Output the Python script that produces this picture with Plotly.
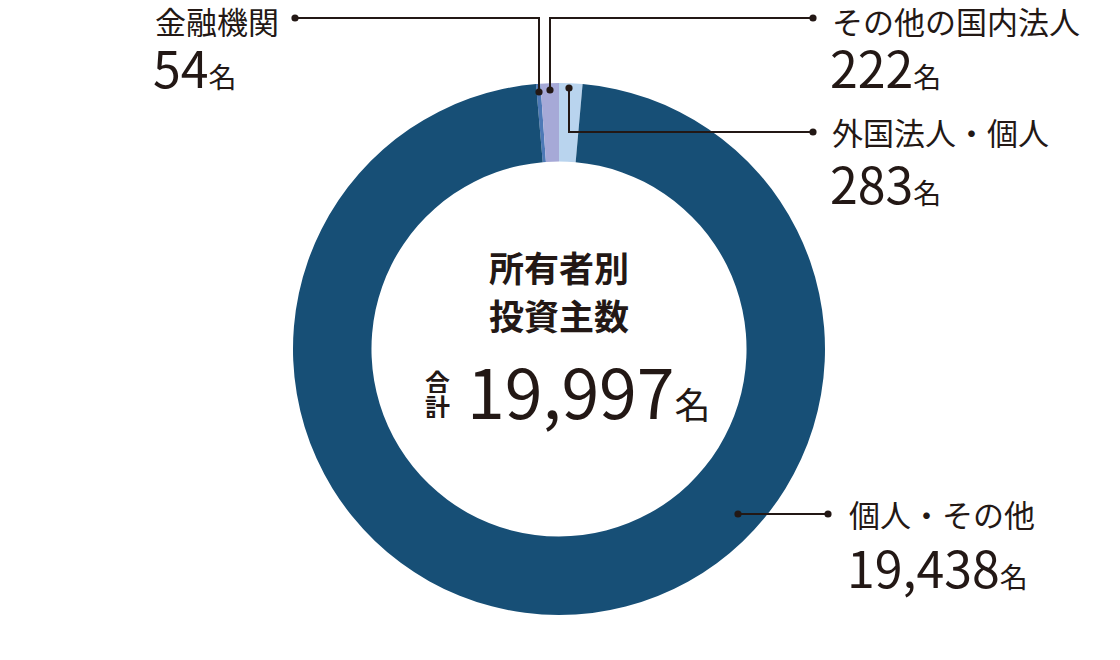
import plotly.graph_objects as go

# data
labels = ["金融機関", "その他の国内法人", "外国法人・個人", "個人・その他"]
values = [54, 222, 283, 19438]
colors = ["#4d79b6", "#a6a9d7", "#b9d4ee", "#174f76"]

W, H = 1120, 660
INK = "#231815"
JP = "Noto Sans CJK JP"


def px(x):
    return x / W


def py(y):
    return 1 - y / H


total = sum(values)
# first slices start a little left of 12 o'clock so the 2nd/3rd boundary sits at the top
rotation = -(values[0] + values[1]) / total * 360

fig = go.Figure(
    go.Pie(
        labels=labels,
        values=values,
        marker=dict(colors=colors, line=dict(width=0)),
        hole=0.705,
        sort=False,
        direction="clockwise",
        rotation=rotation,
        textinfo="none",
        showlegend=False,
        domain=dict(x=[px(293), px(825)], y=[py(615), py(83)]),
        hovertemplate="%{label}: %{value:,}名<extra></extra>",
    )
)

# leader lines: (points of polyline)
leaders = [
    [(295, 18), (539, 18), (539, 92)],
    [(550, 90), (550, 18), (813, 18)],
    [(569, 88), (569, 132), (813, 132)],
    [(738, 514), (828, 514)],
]
shapes = []
for pts in leaders:
    path = "M " + " L ".join(f"{px(x)},{py(y)}" for x, y in pts)
    shapes.append(dict(type="path", xref="paper", yref="paper", path=path,
                       line=dict(color=INK, width=2)))
    for x, y in (pts[0], pts[-1]):
        r = 3.6
        shapes.append(dict(type="circle", xref="paper", yref="paper",
                           x0=px(x - r), x1=px(x + r), y0=py(y + r), y1=py(y - r),
                           fillcolor=INK, line=dict(width=0)))

annotations = []


def note(text, x, y, size, anchor="left", bold=False, height=None):
    annotations.append(dict(
        text=f"<b>{text}</b>" if bold else text,
        x=px(x), y=py(y), xref="paper", yref="paper",
        xanchor=anchor, yanchor="middle", showarrow=False,
        height=height, borderpad=0,
        font=dict(family=JP, size=size, color=INK),
    ))


def count(v, unit_size=28):
    return f"{v:,}<span style='font-size:{unit_size}px'>名</span>"


# side labels (name, value) with positions
label_pos = [(154, 20, 66), (831, 20, 66), (831, 131, 182), (848, 513, 566)]
for name, v, (x, y1, y2) in zip(labels, values, label_pos):
    note(name, x, y1, 31, height=34)
    note(count(v), x - 2, y2, 50)

# center text
note("所有者別", 559, 266, 35, anchor="center", bold=True, height=40)
note("投資主数", 559, 314, 35, anchor="center", bold=True, height=40)
note("合", 437, 380, 25, anchor="center", bold=True, height=25)
note("計", 437, 405, 25, anchor="center", bold=True, height=25)
note(count(total, 36), 466, 389, 68)

fig.update_layout(
    width=W, height=H,
    margin=dict(l=0, r=0, t=0, b=0),
    paper_bgcolor="white",
    plot_bgcolor="white",
    shapes=shapes,
    annotations=annotations,
)

# drop the browser's default 8px body margin so the figure sits at the page corner
fig.write_html("out.html", config={"displayModeBar": False},
               post_script="document.body.style.margin='0';")
